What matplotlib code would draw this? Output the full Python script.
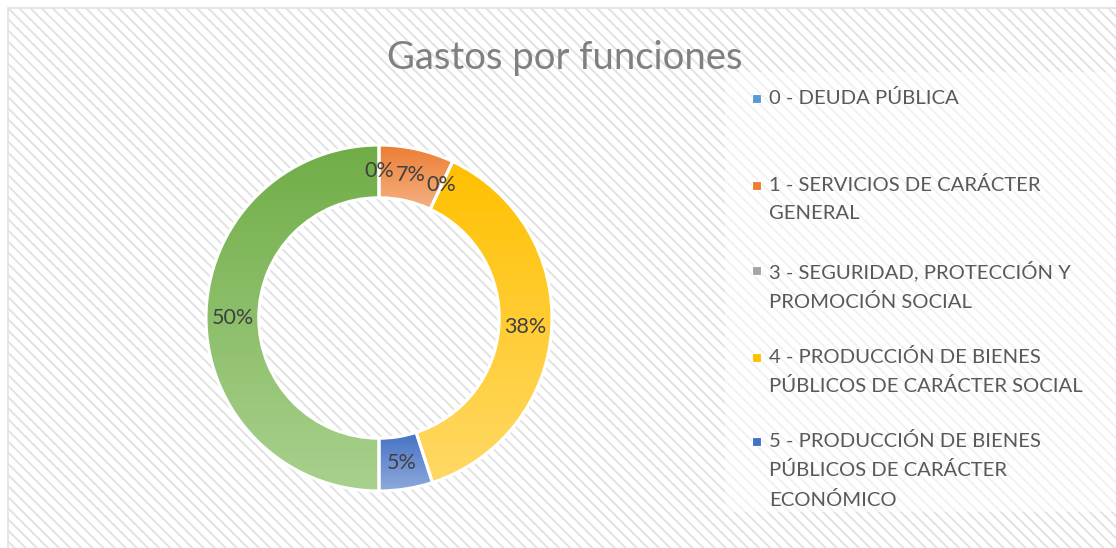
import numpy as np
import matplotlib
matplotlib.use('Agg')
from matplotlib import pyplot as plt
from matplotlib import patches
from matplotlib.colors import LinearSegmentedColormap

# data (clockwise from 12 o'clock)
categories = ['0 - DEUDA PÚBLICA',
              '1 - SERVICIOS DE CARÁCTER GENERAL',
              '3 - SEGURIDAD, PROTECCIÓN Y PROMOCIÓN SOCIAL',
              '4 - PRODUCCIÓN DE BIENES PÚBLICOS DE CARÁCTER SOCIAL',
              '5 - PRODUCCIÓN DE BIENES PÚBLICOS DE CARÁCTER ECONÓMICO',
              'otras']
values = [0, 7, 0, 38, 5, 50]
# wrapped legend labels as they appear (legend is cut off after item 5)
legend_labels = ['0 - DEUDA PÚBLICA',
                 '1 - SERVICIOS DE CARÁCTER\nGENERAL',
                 '3 - SEGURIDAD, PROTECCIÓN Y\nPROMOCIÓN SOCIAL',
                 '4 - PRODUCCIÓN DE BIENES\nPÚBLICOS DE CARÁCTER SOCIAL',
                 '5 - PRODUCCIÓN DE BIENES\nPÚBLICOS DE CARÁCTER\nECONÓMICO']
top_colors = ['#5B9BD5', '#ED7D31', '#A5A5A5', '#FFC000', '#4472C4', '#70AD47']
bottom_colors = ['#9DC3E6', '#F4B183', '#C9C9C9', '#FFD966', '#8FAADC', '#A9D18E']

FONT = 'Lato'
W, H = 1116, 548


def main():
    plt.rcParams['font.family'] = FONT
    plt.rcParams['hatch.linewidth'] = 1.4
    fig = plt.figure(figsize=(W / 100, H / 100), dpi=100)

    # hatched chart area with thin border on top/left
    bg = patches.Rectangle((8 / W, -0.05), 1.1, 1 - 8 / H + 0.05,
                           transform=fig.transFigure, facecolor='white',
                           edgecolor='#e2e2e2', hatch='\\\\\\', lw=1.2, zorder=-2)
    fig.patches.append(bg)

    # donut
    cx, cy, r = 379, 318, 173
    size = 2.5 * r
    ax = fig.add_axes([(cx - size / 2) / W, (H - cy - size / 2) / H, size / W, size / H])
    wedges, _, autotexts = ax.pie(values, startangle=90, counterclock=False,
                                  colors=top_colors, autopct='%1.0f%%',
                                  pctdistance=0.847,
                                  wedgeprops=dict(width=0.305, edgecolor='white', linewidth=2.2),
                                  textprops=dict(color='#404040', fontsize=15.5))

    for w, c0, c1 in zip(wedges, top_colors, bottom_colors):
        ext = w.get_path().get_extents()
        if ext.width < 1e-6 or w.theta2 - w.theta1 < 1e-6:
            continue
        cmap = LinearSegmentedColormap.from_list('g', [c1, c0])
        grad = np.linspace(0, 1, 256).reshape(-1, 1)
        im = ax.imshow(grad, cmap=cmap, origin='lower', aspect='auto',
                       extent=[ext.x0, ext.x1, ext.y0, ext.y1], zorder=1)
        im.set_clip_path(w)
        w.set_facecolor('none')
        w.set_zorder(2)
    for t in autotexts:
        t.set_zorder(3)
    ax.set_xlim(-1.25, 1.25)
    ax.set_ylim(-1.25, 1.25)

    # title
    fig.text(565 / W, 1 - 58 / H, 'Gastos por funciones', ha='center', va='center',
             fontsize=27.5, color='#808080')

    # legend box
    lg = patches.Rectangle((725 / W, 1 - 512 / H), 1.0, (512 - 72) / H,
                           transform=fig.transFigure, facecolor='white',
                           edgecolor='none', alpha=0.55, zorder=-1)
    fig.patches.append(lg)
    first_line_y = [98, 185, 270, 357, 441]
    for lab, c, y in zip(legend_labels, top_colors, first_line_y):
        fig.patches.append(patches.Rectangle((752 / W, 1 - (y + 4.5) / H), 8.5 / W, 8.5 / H,
                                             transform=fig.transFigure, facecolor=c,
                                             edgecolor='white', lw=0.8))
        fig.text(769 / W, 1 - (y - 9) / H, lab, ha='left', va='top',
                 fontsize=14.6, color='#595959', linespacing=1.76)

    fig.savefig('out.png', dpi=100)


if __name__ == "__main__":
    main()
